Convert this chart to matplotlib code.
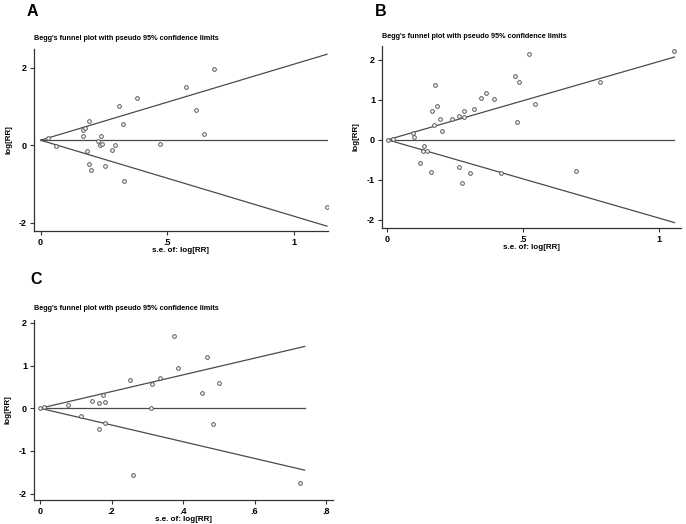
import numpy as np
import matplotlib
matplotlib.use("Agg")
import matplotlib.pyplot as plt

plt.rcParams['font.family'] = ['Liberation Sans', 'DejaVu Sans']

title = "Begg's funnel plot with pseudo 95% confidence limits"
xlabel = "s.e. of: log[RR]"
ylabel = "log[RR]"

# Panel A
a_se = [0.028, 0.059, 0.166, 0.168, 0.176, 0.191, 0.182, 0.191, 0.200, 0.225, 0.238, 0.234, 0.242,
        0.254, 0.283, 0.293, 0.308, 0.325, 0.329, 0.379, 0.471, 0.572, 0.613, 0.645, 0.683, 1.129]
a_lrr = [0.18, -0.02, 0.25, 0.39, 0.45, 0.63, -0.15, -0.49, -0.64, 0.12, 0.25, 0.00, 0.03,
         -0.53, -0.13, 0.00, 1.01, 0.54, -0.92, 1.22, 0.03, 1.51, 0.92, 0.28, 1.96, -1.60]
a_pooled = 0.13
a_semax = 1.13

# Panel B
b_se = [0.002, 0.020, 0.094, 0.098, 0.133, 0.130, 0.147, 0.121, 0.160, 0.166, 0.175, 0.172, 0.184,
        0.193, 0.202, 0.239, 0.263, 0.265, 0.276, 0.282, 0.282, 0.306, 0.319, 0.345, 0.362, 0.394,
        0.418, 0.472, 0.476, 0.485, 0.521, 0.545, 0.696, 0.782, 1.055]
b_lrr = [0.00, 0.03, 0.17, 0.07, -0.15, -0.27, -0.28, -0.57, -0.81, 0.71, 1.37, 0.38, 0.85,
         0.53, 0.21, 0.51, 0.60, -0.69, -1.08, 0.72, 0.57, -0.82, 0.78, 1.05, 1.16, 1.02,
         -0.83, 1.61, 0.44, 1.45, 2.15, 0.89, -0.77, 1.46, 2.23]
b_pooled = 0.0
b_semax = 1.058

# Panel C
c_se = [0.000, 0.012, 0.079, 0.114, 0.145, 0.164, 0.166, 0.177, 0.182, 0.182, 0.252, 0.260,
        0.309, 0.313, 0.334, 0.375, 0.385, 0.453, 0.466, 0.484, 0.501, 0.726]
c_lrr = [0.00, 0.02, 0.08, -0.18, 0.16, 0.12, -0.48, 0.30, 0.15, -0.35, 0.67, -1.56,
         0.00, 0.56, 0.72, 1.69, 0.95, 0.35, 1.21, -0.36, 0.59, -1.76]
c_pooled = 0.0
c_semax = 0.74

W, H = 686, 524
fig = plt.figure(figsize=(W / 100, H / 100), dpi=100)
fig.patch.set_facecolor('white')

def rect(l, r, t, b):
    return [l / W, (H - b) / H, (r - l) / W, (b - t) / H]

lc = '#4a4a4a'

def panel(box, se, lrr, pooled, semax, xlim, ylim, xt, xtl, yt, letter, letter_xy, title_y):
    ax = fig.add_axes(rect(*box))
    s = np.array([0.0, semax])
    ax.plot(s, pooled + 1.96 * s, color=lc, lw=0.9)
    ax.plot(s, pooled - 1.96 * s, color=lc, lw=0.9)
    ax.plot(s, [pooled, pooled], color=lc, lw=0.9)
    ax.scatter(se, lrr, s=7, facecolors='white', edgecolors='#555555', linewidths=0.7, zorder=3)
    ax.set_xlim(*xlim)
    ax.set_ylim(*ylim)
    ax.spines['top'].set_visible(False)
    ax.spines['right'].set_visible(False)
    for sp in ('left', 'bottom'):
        ax.spines[sp].set_color('#333333')
        ax.spines[sp].set_linewidth(0.9)
    ax.set_xticks(xt)
    ax.set_xticklabels(xtl)
    ax.set_yticks(yt)
    ax.set_yticklabels([str(v) for v in yt])
    ax.tick_params(labelsize=6.5, length=3, width=0.8, pad=2, colors='#333333')
    for lab in ax.get_xticklabels() + ax.get_yticklabels():
        lab.set_fontweight('bold')
        lab.set_color('black')
    ax.set_xlabel(xlabel, fontsize=5.8, fontweight='bold', labelpad=0)
    ax.set_ylabel(ylabel, fontsize=5.8, fontweight='bold', labelpad=5)
    fig.text(box[0] / W, 1 - title_y / H, title, fontsize=5.2, fontweight='bold',
             ha='left', va='center')
    fig.text(letter_xy[0] / W, 1 - letter_xy[1] / H, letter, fontsize=11.5, fontweight='bold',
             ha='left', va='center')
    return ax

panel((34, 328, 49, 231), a_se, a_lrr, a_pooled, a_semax, (-0.026, 1.134), (-2.21, 2.48),
      [0, 0.5, 1], ['0', '.5', '1'], [-2, 0, 2], 'A', (27, 11), 39)
panel((382, 681, 46, 228), b_se, b_lrr, b_pooled, b_semax, (-0.02, 1.082), (-2.21, 2.35),
      [0, 0.5, 1], ['0', '.5', '1'], [-2, -1, 0, 1, 2], 'B', (375, 11), 36)
panel((34, 333, 320, 500), c_se, c_lrr, c_pooled, c_semax, (-0.017, 0.819), (-2.15, 2.07),
      [0, 0.2, 0.4, 0.6, 0.8], ['0', '.2', '.4', '.6', '.8'], [-2, -1, 0, 1, 2], 'C', (30, 280), 308)

fig.savefig('out.png', dpi=100, facecolor='white')
